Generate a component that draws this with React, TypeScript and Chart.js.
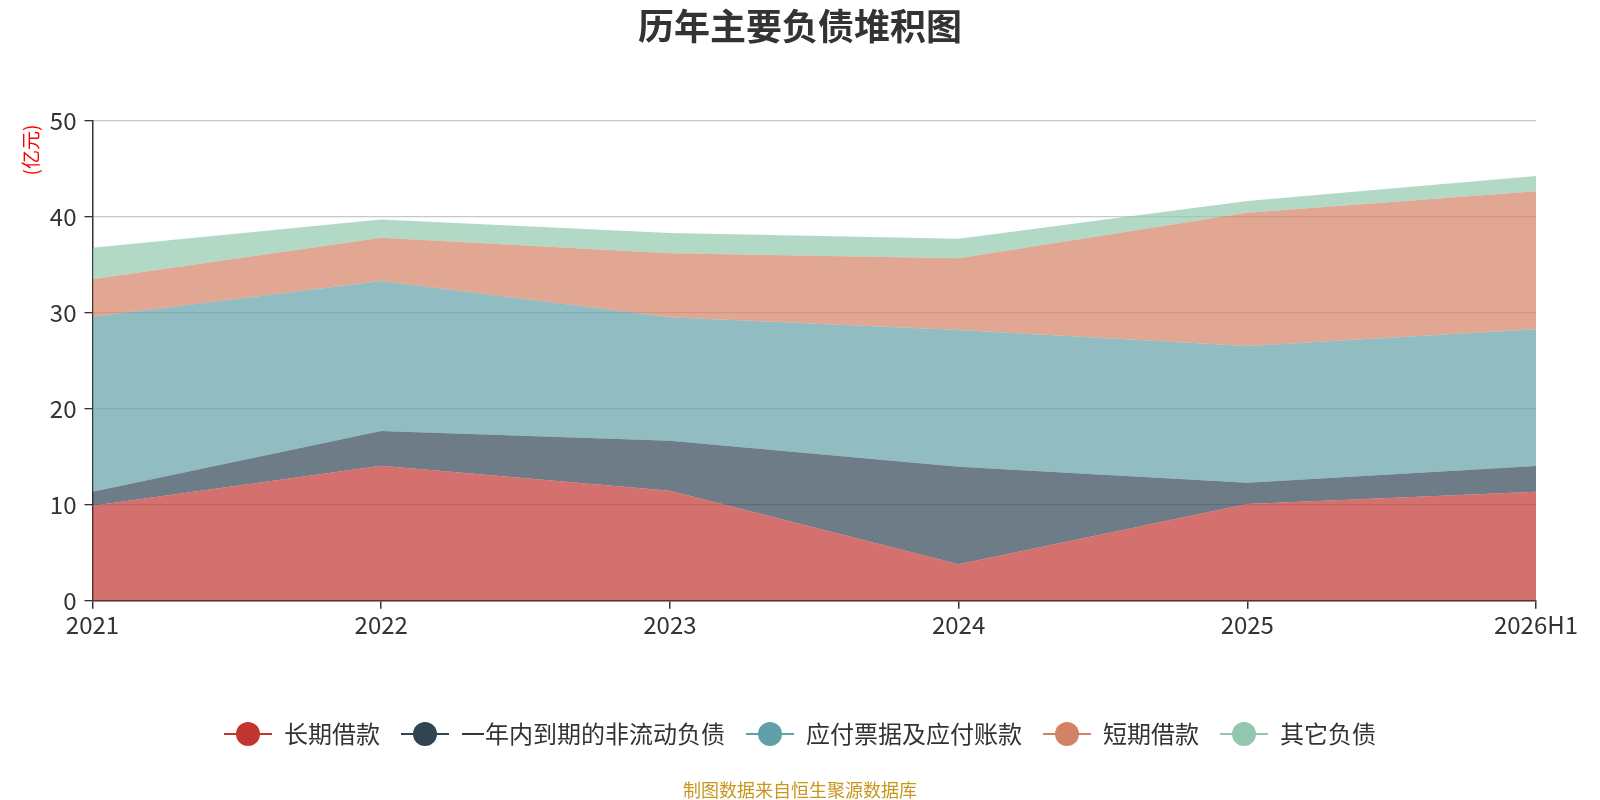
import { useEffect, useRef } from "react";
import { Chart, registerables, type ChartConfiguration, type Plugin } from "chart.js";

Chart.register(...registerables);

const years = ["2021", "2022", "2023", "2024", "2025", "2026H1"];
const longTermLoans = [9.9, 14.06, 11.46, 3.79, 10.07, 11.35];
const currentNonCurrent = [1.45, 3.62, 5.21, 10.17, 2.22, 2.68];
const payables = [18.23, 15.62, 12.85, 14.24, 14.24, 14.24];
const shortTermLoans = [3.9, 4.5, 6.67, 7.47, 13.89, 14.38];
const otherLiabilities = [3.29, 1.9, 2.11, 2.04, 1.22, 1.59];

const seriesNames = ["长期借款", "一年内到期的非流动负债", "应付票据及应付账款", "短期借款", "其它负债"];
const seriesColors = ["194,53,49", "47,69,84", "97,160,168", "212,130,101", "145,199,174"];

const FONT = "'Noto Sans CJK SC', 'Noto Sans', sans-serif";

// echarts-like legend marker: line with a circle on it
function makeMarker(rgb: string) {
  const c = document.createElement("canvas");
  c.width = 48;
  c.height = 26;
  const ctx = c.getContext("2d")!;
  ctx.strokeStyle = `rgb(${rgb})`;
  ctx.lineWidth = 2;
  ctx.beginPath();
  ctx.moveTo(0, 13);
  ctx.lineTo(48, 13);
  ctx.stroke();
  ctx.fillStyle = `rgb(${rgb})`;
  ctx.beginPath();
  ctx.arc(24, 13, 12, 0, Math.PI * 2);
  ctx.fill();
  return c;
}

const decorations: Plugin<"line"> = {
  id: "decorations",
  afterDraw(chart) {
    const ctx = chart.ctx;
    ctx.save();
    ctx.textAlign = "center";
    ctx.textBaseline = "middle";
    ctx.fillStyle = "#333";
    ctx.font = `bold 36px ${FONT}`;
    ctx.fillText("历年主要负债堆积图", 800, 26);

    ctx.fillStyle = "#c8961e";
    ctx.font = `18px ${FONT}`;
    ctx.fillText("制图数据来自恒生聚源数据库", 800, 790);

    ctx.translate(31, 150);
    ctx.rotate(-Math.PI / 2);
    ctx.fillStyle = "red";
    ctx.font = `19px ${FONT}`;
    ctx.fillText("(亿元)", 0, 0);
    ctx.restore();
  },
};

export default function App() {
  const canvasRef = useRef<HTMLCanvasElement | null>(null);
  const chartRef = useRef<Chart | null>(null);

  useEffect(() => {
    document.body.style.margin = "0";
    const el = canvasRef.current;
    if (!el) return;

    chartRef.current?.destroy();

    const values = [longTermLoans, currentNonCurrent, payables, shortTermLoans, otherLiabilities];

    const cfg: ChartConfiguration<"line"> = {
      type: "line",
      data: {
        labels: years,
        datasets: values.map((data, i) => ({
          label: seriesNames[i],
          data,
          fill: i === 0 ? "origin" : "-1",
          backgroundColor: `rgba(${seriesColors[i]},0.7)`,
          borderColor: "transparent",
          borderWidth: 0,
          pointRadius: 0,
          pointHoverRadius: 0,
          pointStyle: makeMarker(seriesColors[i]),
          tension: 0,
        })),
      },
      options: {
        responsive: false,
        animation: false,
        layout: { padding: { top: 120.7, bottom: 44, left: 0, right: 0 } },
        plugins: {
          legend: {
            position: "bottom",
            labels: {
              usePointStyle: true,
              pointStyleWidth: 48,
              padding: 21,
              color: "#333",
              font: { size: 24, family: FONT },
            },
          },
          tooltip: { enabled: false },
        },
        scales: {
          x: {
            type: "category",
            offset: false,
            grid: { drawOnChartArea: false, drawTicks: true, tickLength: 8, tickColor: "#333", lineWidth: 1.5 },
            border: { color: "#333", width: 1.5 },
            ticks: { color: "#333", font: { size: 24, family: FONT }, padding: 2, maxRotation: 0, autoSkip: false },
            afterFit: (scale: any) => {
              scale.height = 100.3;
              scale.paddingLeft = 0;
              scale.paddingRight = 64;
            },
          },
          y: {
            stacked: true,
            min: 0,
            max: 50,
            ticks: { stepSize: 10, color: "#333", font: { size: 24, family: FONT }, padding: 8 },
            grid: { color: "#c8c8c8", lineWidth: 1.3, tickLength: 8, tickColor: "#333" },
            border: { color: "#333", width: 1.5 },
            afterFit: (scale: any) => {
              scale.width = 92.5;
            },
          },
        },
      },
      plugins: [decorations],
    };

    chartRef.current = new Chart(el, cfg);

    return () => {
      chartRef.current?.destroy();
      chartRef.current = null;
    };
  }, []);

  return <canvas ref={canvasRef} width={1600} height={800} style={{ display: "block" }} />;
}
